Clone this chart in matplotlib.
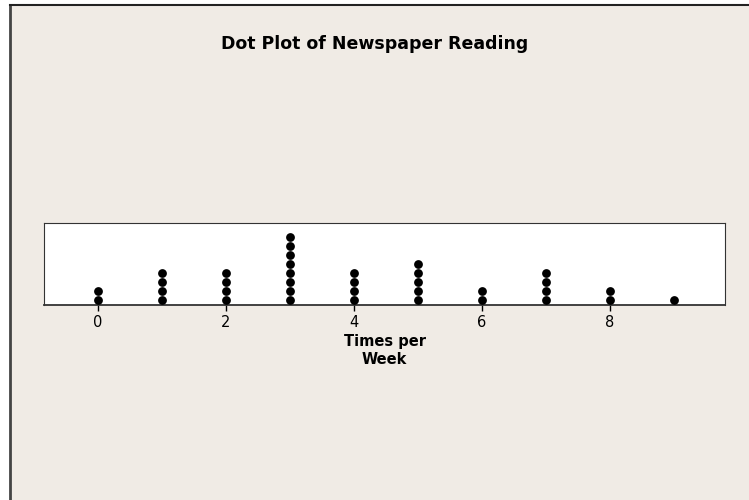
import numpy as np
import matplotlib.pyplot as plt
from matplotlib.lines import Line2D
from matplotlib.patches import Rectangle

values = [0, 1, 2, 3, 4, 5, 6, 7, 8, 9]
counts = [2, 4, 4, 8, 4, 5, 2, 4, 2, 1]
ticks = [0, 2, 4, 6, 8]

W, H = 749, 500
bg = '#f0ebe5'
fig = plt.figure(figsize=(W / 100, H / 100), dpi=100, facecolor=bg)

# white margin + dark frame on left/top edges
fig.patches.append(Rectangle((0, 0), 9 / W, 1, transform=fig.transFigure, color='white', zorder=0))
fig.patches.append(Rectangle((0, 1 - 5 / H), 1, 5 / H, transform=fig.transFigure, color='white', zorder=0))
fig.lines.append(Line2D([9.5 / W, 9.5 / W], [0, 1 - 5 / H], transform=fig.transFigure, color='#444444', lw=2))
fig.lines.append(Line2D([9.5 / W, 1], [1 - 5 / H, 1 - 5 / H], transform=fig.transFigure, color='#222222', lw=1.5))

ax = fig.add_axes([44 / W, 1 - 305 / H, (725 - 44) / W, (305 - 223) / H])
ax.set_facecolor('white')

xs, ys = [], []
for v, c in zip(values, counts):
    for k in range(c):
        xs.append(v)
        ys.append(0.55 + k)
ax.scatter(xs, ys, s=40, color='black', zorder=3, linewidths=0)

ax.set_xlim(-0.84, 9.8)
ax.set_ylim(0, 9.1)
ax.set_yticks([])
ax.set_xticks(ticks)
ax.tick_params(axis='x', length=4, width=1, labelsize=10.5, pad=3)
for s in ax.spines.values():
    s.set_linewidth(0.8)
    s.set_color('#333333')
ax.spines['bottom'].set_linewidth(1.3)

ax.set_xlabel('Times per\nWeek', fontsize=10.5, fontweight='bold', labelpad=3, linespacing=1.25)
fig.text(0.5, 1 - 44 / H, 'Dot Plot of Newspaper Reading', ha='center', va='center',
         fontsize=12.5, fontweight='bold')

fig.savefig('out.png', dpi=100, facecolor=bg)
